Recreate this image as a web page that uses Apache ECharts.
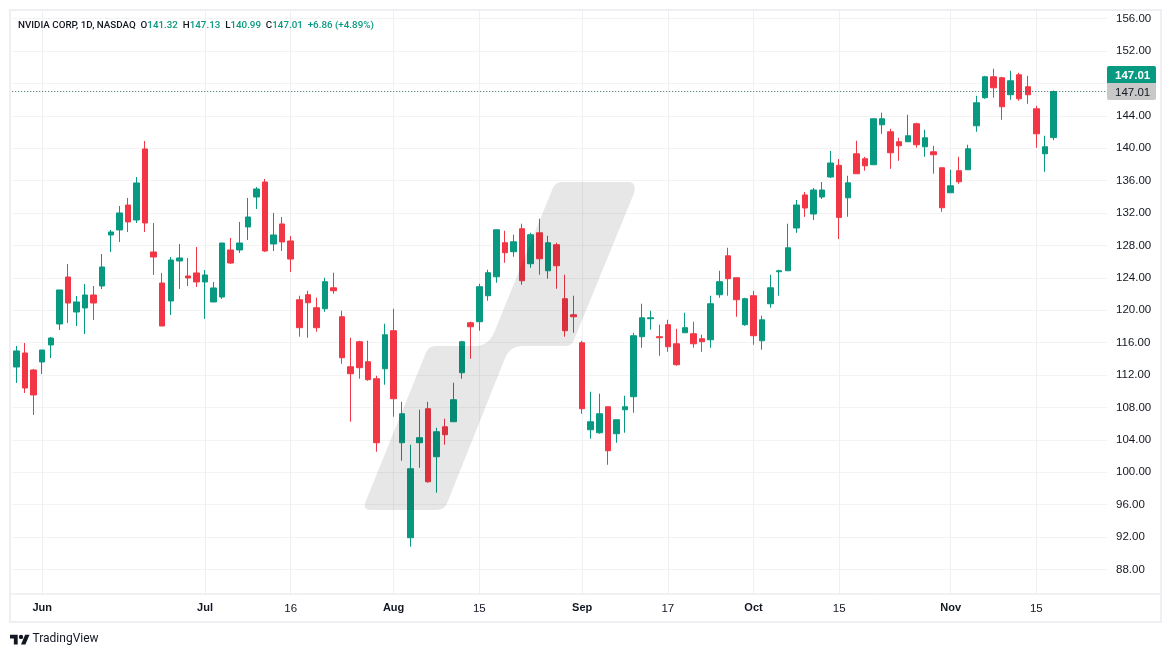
<!DOCTYPE html>
<html>
<head>
<meta charset="utf-8">
<style>html,body{margin:0;padding:0;background:#fff}#c{width:1171px;height:657px}</style>
<script src="https://cdn.jsdelivr.net/npm/echarts@6/dist/echarts.min.js"></script>
</head>
<body>
<div id="c"></div>
<script>
const categories = ['05-29','05-30','05-31','06-03','06-04','06-05','06-06','06-07','06-10','06-11','06-12','06-13','06-14','06-17','06-18','06-20','06-21','06-24','06-25','06-26','06-27','06-28','07-01','07-02','07-03','07-05','07-08','07-09','07-10','07-11','07-12','07-15','07-16','07-17','07-18','07-19','07-22','07-23','07-24','07-25','07-26','07-29','07-30','07-31','08-01','08-02','08-05','08-06','08-07','08-08','08-09','08-12','08-13','08-14','08-15','08-16','08-19','08-20','08-21','08-22','08-23','08-26','08-27','08-28','08-29','08-30','09-03','09-04','09-05','09-06','09-09','09-10','09-11','09-12','09-13','09-16','09-17','09-18','09-19','09-20','09-23','09-24','09-25','09-26','09-27','09-30','10-01','10-02','10-03','10-04','10-07','10-08','10-09','10-10','10-11','10-14','10-15','10-16','10-17','10-18','10-21','10-22','10-23','10-24','10-25','10-28','10-29','10-30','10-31','11-01','11-04','11-05','11-06','11-07','11-08','11-11','11-12','11-13','11-14','11-15','11-18','11-19','11-20','11-21','11-22','11-25','11-26','11-27'];
const opens = [113.00,114.73,112.63,113.62,115.72,118.31,124.11,119.79,120.29,121.89,123.00,129.30,129.92,133.00,131.15,139.92,127.20,123.37,121.15,126.09,124.24,124.61,123.50,121.03,121.64,127.45,127.45,130.29,133.99,135.84,128.19,130.66,128.56,121.30,121.92,120.32,120.19,122.78,119.20,113.03,116.12,113.65,111.55,112.78,117.48,103.65,91.92,103.65,107.85,101.92,105.62,106.24,112.29,118.46,118.59,121.80,124.14,128.34,127.23,130.07,125.75,129.57,124.88,128.09,121.43,119.45,115.99,105.25,104.88,108.09,104.76,107.72,109.33,116.74,118.96,116.74,118.22,115.87,117.23,117.11,116.49,116.36,121.92,126.73,124.02,118.22,121.80,116.24,120.81,124.76,124.88,130.16,134.24,131.89,133.99,136.46,137.90,133.89,139.32,138.71,137.97,142.90,142.04,140.81,140.81,143.03,140.19,139.57,137.60,134.51,137.23,137.35,142.78,146.24,148.83,148.71,146.61,149.08,147.60,144.88,139.32,141.32];
const closes = [114.98,110.41,109.55,115.10,116.58,122.51,120.90,121.03,121.89,120.90,125.35,129.67,132.02,130.91,135.72,130.78,126.58,118.06,126.21,126.46,123.99,123.50,124.36,122.76,128.31,125.84,128.31,131.52,134.98,127.32,129.30,128.44,126.33,117.85,120.93,117.85,123.53,122.41,114.14,112.17,112.91,111.43,103.65,116.98,109.08,107.23,100.44,104.27,98.83,105.01,104.64,108.96,116.12,117.97,122.91,124.64,129.94,127.11,128.46,123.65,129.33,126.36,128.34,125.50,117.48,119.20,107.85,106.24,107.23,102.66,106.49,108.09,116.86,119.08,119.08,116.61,115.50,113.28,117.85,115.87,116.12,120.81,123.53,123.90,121.30,121.43,116.86,118.83,122.78,124.88,127.72,133.00,132.63,134.85,134.85,138.19,131.47,135.74,136.86,137.84,143.65,143.65,139.45,140.31,141.55,140.44,141.30,139.20,132.66,135.37,135.87,139.94,145.62,148.83,147.47,145.13,148.34,146.11,146.61,141.79,140.19,147.01];
const lows = [111.03,109.79,107.08,112.14,114.11,117.57,118.43,118.06,117.08,118.80,122.63,127.20,128.44,129.67,130.78,129.67,124.36,118.06,119.42,122.63,123.00,122.88,118.93,121.03,121.40,125.72,127.08,128.68,132.51,127.20,127.32,127.32,124.73,116.74,116.61,117.35,119.82,122.04,113.40,106.24,111.55,111.30,102.54,110.81,106.86,101.43,90.81,100.56,98.71,97.48,103.40,106.24,111.55,114.02,117.48,121.18,123.40,125.87,126.61,123.15,125.25,124.39,123.90,122.66,116.74,117.23,107.23,104.14,104.76,100.93,103.65,104.88,107.35,115.38,117.60,114.39,114.88,113.16,117.23,115.38,114.88,115.38,121.55,121.80,119.20,118.09,115.75,115.13,120.32,121.80,124.88,129.55,131.52,131.15,133.74,136.34,128.80,131.55,136.86,137.23,137.97,141.79,137.47,138.46,140.81,140.07,138.95,136.86,132.16,134.51,135.62,137.35,142.04,146.11,146.24,143.52,145.99,145.87,145.50,140.07,137.10,140.99];
const highs = [115.60,115.97,112.76,115.10,116.71,122.51,125.72,121.77,123.25,123.00,126.95,129.92,132.88,133.87,136.46,140.90,130.78,124.61,126.58,128.19,126.46,127.82,124.98,123.50,128.31,128.93,130.91,133.87,135.22,136.21,132.02,131.52,129.17,121.80,122.41,121.55,124.02,124.64,119.94,116.61,116.24,116.24,111.92,118.34,120.19,108.71,103.40,107.72,108.71,105.50,106.61,111.06,116.24,118.59,123.28,125.01,129.94,129.82,129.33,130.69,129.57,131.30,129.20,128.34,124.39,121.80,116.24,109.95,109.70,108.09,106.49,109.45,117.23,120.81,119.94,118.22,118.83,117.72,119.70,118.59,116.98,121.80,124.88,127.72,124.02,121.55,122.41,119.33,124.39,125.01,130.69,133.62,134.61,135.10,135.84,139.67,138.68,136.61,140.93,138.95,143.65,144.39,142.41,141.30,144.14,143.15,142.29,140.31,137.60,137.35,138.95,140.44,146.48,148.95,149.82,148.83,149.57,149.32,148.95,145.25,141.55,147.13];
const priceTicks = [88,92,96,100,104,108,112,116,120,124,128,132,136,140,144,148,152,156];
const tickDates = ['06-03','07-01','07-16','08-01','08-15','09-03','09-17','10-01','10-15','11-01','11-15'];
const tickTexts = ['Jun','Jul','16','Aug','15','Sep','17','Oct','15','Nov','15'];
const headerTitle = 'NVIDIA CORP, 1D, NASDAQ';
const headerChange = '+6.86 (+4.89%)';
const lastClose = closes[closes.length - 1];

const UP = '#089981', DOWN = '#F23645', INK = '#131722', GRID = '#f3f3f4', FRAME = '#eeeef3';
const num = 'Liberation Sans, Arial, sans-serif';
const candles = opens.map((o, i) => [o, closes[i], lows[i], highs[i]]);
const last = opens.length - 1;

const chart = echarts.init(document.getElementById('c'), null, {renderer: 'canvas'});
const frameLine = (x1, y1, x2, y2, w, c) => ({type: 'line', z: 60, silent: true,
  shape: {x1, y1, x2, y2}, style: {stroke: c, lineWidth: w}});

chart.setOption({
  animation: false,
  backgroundColor: '#ffffff',
  grid: {left: 12.2, top: 10.6, width: 1097, height: 583.2, containLabel: false},
  xAxis: {
    type: 'category', data: categories, boundaryGap: true,
    axisLine: {show: false}, axisTick: {show: false}, splitLine: {show: false},
    axisLabel: {
      margin: 9, hideOverlap: false, color: INK, fontFamily: num, fontSize: 11.5,
      interval: (i, v) => tickDates.includes(v),
      formatter: v => {
        const t = tickTexts[tickDates.indexOf(v)];
        return /\d/.test(t) ? t : '{b|' + t + '}';
      },
      rich: {b: {fontWeight: 'bold', fontFamily: num, fontSize: 11, color: INK}}
    }
  },
  yAxis: {
    type: 'value', position: 'right', min: 85, max: 157, scale: true,
    axisLine: {show: false},
    axisTick: {show: false, customValues: priceTicks},
    splitLine: {show: true, lineStyle: {color: GRID, width: 1}},
    axisLabel: {
      customValues: priceTicks, margin: 6.8, color: INK, fontFamily: num, fontSize: 11.5,
      formatter: v => v.toFixed(2)
    }
  },
  series: [
    {
      type: 'line', data: [], z: 1, silent: true,
      markLine: {
        z: 1, silent: true, symbol: 'none', animation: false, label: {show: false},
        lineStyle: {color: '#eff0f3', width: 1, type: 'solid'},
        data: tickDates.map(d => ({xAxis: d}))
      }
    },
    {
      type: 'candlestick', data: candles, z: 3, barWidth: 6,
      itemStyle: {color: UP, color0: DOWN, borderColor: UP, borderColor0: DOWN, borderWidth: 1},
      markLine: {
        silent: true, symbol: 'none', animation: false, label: {show: false},
        lineStyle: {color: '#2f6f63', width: 1, type: [1, 2]},
        data: [{yAxis: lastClose}]
      }
    },
    {
      type: 'custom', coordinateSystem: 'none', data: [0], z: 100, silent: true, clip: false,
      renderItem: () => ({
        type: 'path',
        shape: {
          pathData: 'M370 510 L437 510 Q444 510 447 503 L504 360 Q509 346 522 346 L565 346 Q571 346 573.5 340 L633.5 193 Q636 182 628 182 L561 182 Q555 182 552 189 L494 332 Q488 346 475 346 L435 346 Q429 346 426 352 L365 503 Q363 510 370 510 Z',
          x: 364.6, y: 182, width: 270.1, height: 328, layout: 'cover'
        },
        style: {fill: 'rgba(0,0,0,0.095)'}
      })
    }
  ],
  graphic: [
    {type: 'rect', z: 50, silent: true, shape: {x: 1107, y: 11, width: 6, height: 582}, style: {fill: '#fff'}},
    frameLine(10, 10, 1161, 10, 2, FRAME),
    frameLine(10, 622, 1161, 622, 2, FRAME),
    frameLine(10, 9, 10, 623, 2, FRAME),
    frameLine(1161, 9, 1161, 623, 2, FRAME),
    frameLine(11, 594, 1160, 594, 1, '#e3e3ea'),
    {type: 'rect', z: 70, silent: true, shape: {x: 1107, y: 66, width: 49, height: 17, r: [2, 2, 0, 0]}, style: {fill: UP}},
    {type: 'rect', z: 70, silent: true, shape: {x: 1107, y: 83, width: 49, height: 17, r: [0, 0, 2, 2]}, style: {fill: '#c8c8c8'}},
    {type: 'text', z: 71, silent: true, x: 1115, y: 70, style: {text: lastClose.toFixed(2), fill: '#fff', font: 'bold 11.5px ' + num}},
    {type: 'text', z: 71, silent: true, x: 1115, y: 87, style: {text: lastClose.toFixed(2), fill: INK, font: '11.5px ' + num}},
    {type: 'text', z: 80, silent: true, x: 18, y: 21, style: {
      text: '{d|' + headerTitle + '}{s|  }{d|O}{g|' + opens[last].toFixed(2) + '}{s|  }{d|H}{g|' + highs[last].toFixed(2) + '}{s|  }{d|L}{g|' + lows[last].toFixed(2) + '}{s|  }{d|C}{g|' + closes[last].toFixed(2) + '}{s|  }{g|' + headerChange + '}',
      rich: {
        d: {fill: INK, font: '500 9.8px Roboto, sans-serif'},
        g: {fill: UP, font: '500 9.8px Roboto, sans-serif'},
        s: {font: '9.8px Roboto, sans-serif'}
      }}},
    {type: 'polygon', z: 80, silent: true, shape: {points: [[10,634.7],[17.7,634.7],[17.7,644.6],[13.85,644.6],[13.85,638.55],[10,638.55]]}, style: {fill: INK}},
    {type: 'polygon', z: 80, silent: true, shape: {points: [[21,644.6],[25.13,634.7],[29.53,634.7],[25.4,644.6]]}, style: {fill: INK}},
    {type: 'circle', z: 80, silent: true, shape: {cx: 21, cy: 636.9, r: 2.2}, style: {fill: INK}},
    {type: 'text', z: 80, silent: true, x: 32.5, y: 633, style: {text: 'TradingView', fill: INK, font: '12px Roboto, sans-serif'}}
  ]
});
</script>
</body>
</html>
